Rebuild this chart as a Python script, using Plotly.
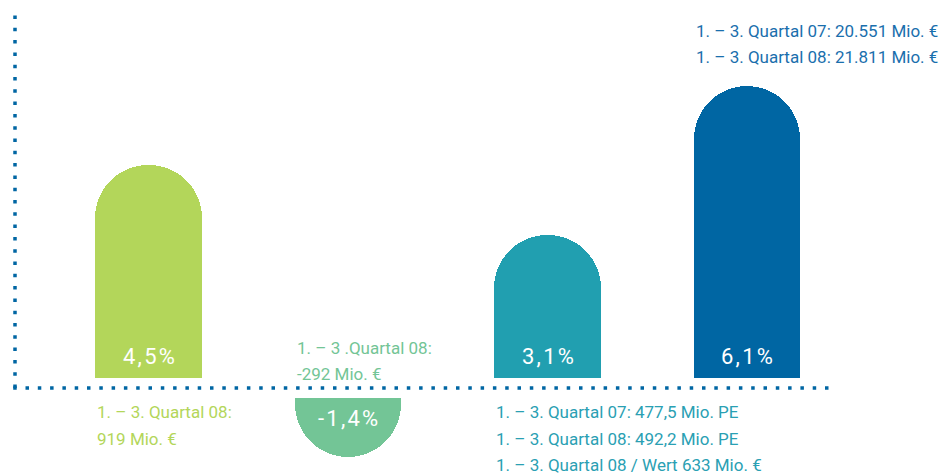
import plotly.graph_objects as go

# ---- data ----
values = [4.5, -1.4, 3.1, 6.1]
value_labels = ["4,5%", "-1,4%", "3,1%", "6,1%"]
bar_colors = ["#b3d65a", "#73c596", "#219fb0", "#0066a3"]
note_colors = ["#b3d65a", "#73c596", "#2aa0b3", "#1a6fad"]
notes = [
    ["1. – 3. Quartal 08:", "919 Mio. €"],
    ["1. – 3 .Quartal 08:", "-292 Mio. €"],
    ["1. – 3. Quartal 07: 477,5 Mio. PE",
     "1. – 3. Quartal 08: 492,2 Mio. PE",
     "1. – 3. Quartal 08 / Wert 633 Mio. €"],
    ["1. – 3. Quartal 07: 20.551 Mio. €",
     "1. – 3. Quartal 08: 21.811 Mio. €"],
]
# where notes sit: "below" axis, "above" axis, or "top" above bar
note_place = ["below", "above", "below", "top"]

# ---- layout constants ----
W, H = 941, 476
xs = list(range(len(values)))
bar_w = 0.536
px_per_x = 199.5
x0_px = 148.5
px_per_y = 49.5
zero_px = 388
gap = 10 / px_per_y  # white gap between bars and the dotted axis
axis_color = "#0066a3"
FONT = "Roboto"

x_range = [-x0_px / px_per_x, (W - x0_px) / px_per_x]
y_range = [-(H - zero_px) / px_per_y, zero_px / px_per_y]


def spaced(s):
    return "\u200a".join(s)


fig = go.Figure()
fig.add_trace(go.Bar(
    x=xs, y=values, width=bar_w,
    marker=dict(color=bar_colors, cornerradius="50%", line=dict(width=0)),
    hoverinfo="skip", showlegend=False,
))

annotations = []
# value labels inside bars
for i, (v, lab) in enumerate(zip(values, value_labels)):
    annotations.append(dict(
        x=xs[i], y=0, xref="x", yref="y", text=spaced(lab), showarrow=False,
        xanchor="center", yanchor="middle",
        yshift=31.5 if v >= 0 else -30,
        font=dict(family=FONT, size=22, color="white"),
    ))

line_step = 26.5
for i, lines in enumerate(notes):
    left = xs[i] - bar_w / 2
    n = len(lines)
    for k, t in enumerate(lines):
        if note_place[i] == "below":
            y, ys = 0, -(24 + line_step * k)
        elif note_place[i] == "above":
            y, ys = 0, 14 + line_step * (n - 1 - k)
        else:
            y, ys = values[i], 29 + line_step * (n - 1 - k)
        annotations.append(dict(
            x=left, y=y, xref="x", yref="y", text=t, showarrow=False,
            xanchor="left", yanchor="middle", yshift=ys,
            font=dict(family=FONT, size=17, color=note_colors[i]),
        ))

dash = "3.5px,8.8px"
shapes = [
    # white gap band around the zero line
    dict(type="rect", xref="paper", yref="y", x0=0, x1=1, y0=-gap, y1=gap,
         fillcolor="white", line=dict(width=0), layer="above"),
    # vertical dotted axis
    dict(type="line", xref="paper", yref="y",
         x0=15 / W, x1=15 / W, y0=0, y1=(zero_px - 7) / px_per_y,
         line=dict(color=axis_color, width=3.5, dash=dash), layer="above"),
    # horizontal dotted axis
    dict(type="line", xref="paper", yref="y",
         x0=13.2 / W, x1=830 / W, y0=0, y1=0,
         line=dict(color=axis_color, width=3.5, dash=dash), layer="above"),
]

fig.update_layout(
    width=W, height=H,
    margin=dict(l=0, r=0, t=0, b=0),
    paper_bgcolor="white", plot_bgcolor="white",
    xaxis=dict(range=x_range, visible=False, fixedrange=True),
    yaxis=dict(range=y_range, visible=False, fixedrange=True),
    annotations=annotations, shapes=shapes,
    bargap=0,
)

fig.write_html(
    "out.html",
    config={"displayModeBar": False},
    post_script="document.body.style.margin='0px';document.body.style.overflow='hidden';",
)
